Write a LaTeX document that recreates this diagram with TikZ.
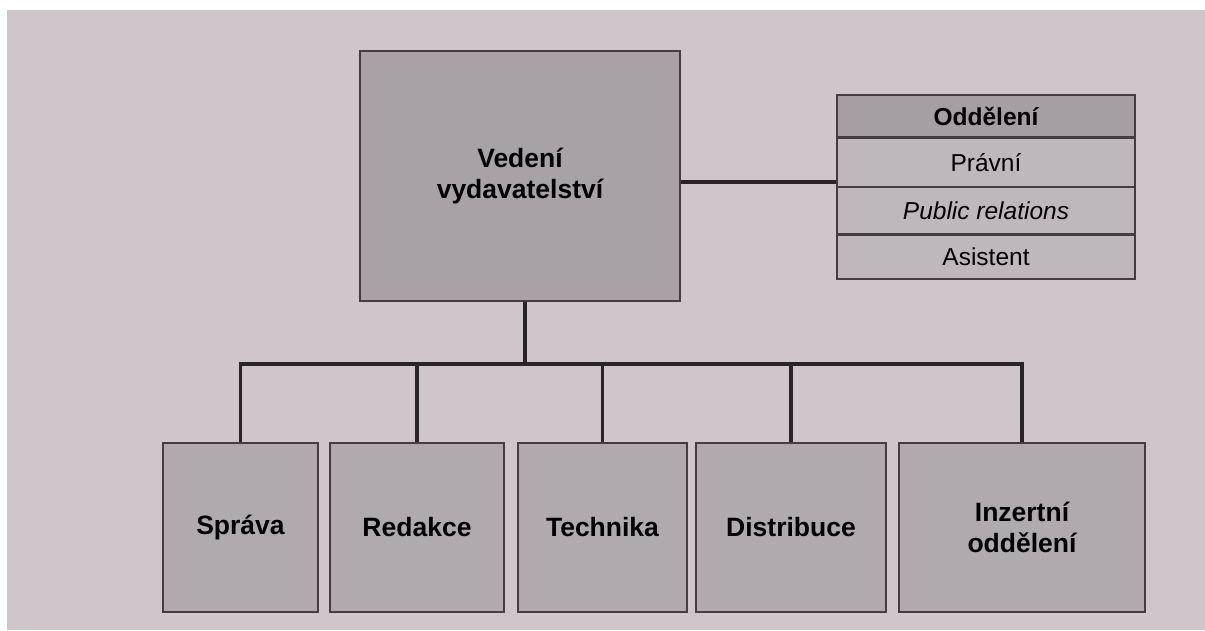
\documentclass[tikz,border=0pt]{standalone}
\usepackage{fontspec}
\setmainfont{Liberation Sans}
\definecolor{page}{RGB}{207,198,204}
\definecolor{boxfill}{RGB}{168,161,165}
\definecolor{lowfill}{RGB}{176,169,173}
\definecolor{hdrfill}{RGB}{165,158,162}
\definecolor{rowfill}{RGB}{190,183,187}
\definecolor{edge}{RGB}{68,62,66}
\definecolor{wire}{RGB}{40,36,39}
\tikzset{
  orgbox/.style={draw=edge, line width=1.8pt, fill=boxfill, align=center, inner sep=0pt,
    font=\bfseries\fontsize{26.5}{31}\selectfont},
  lowbox/.style={orgbox, fill=lowfill, minimum height=169pt},
  tabrow/.style={draw=edge, line width=1.3pt, fill=rowfill, inner sep=0pt, minimum width=298pt,
    font=\fontsize{24.5}{28}\selectfont},
  tabhdr/.style={tabrow, fill=hdrfill, font=\bfseries\fontsize{24.5}{28}\selectfont},
  conn/.style={draw=wire, line width=3.2pt, line join=miter}
}
\begin{document}
\begin{tikzpicture}[x=1pt,y=-1pt]
\useasboundingbox (0,0) rectangle (1205,630);
\fill[white] (0,0) rectangle (1205,630);
\fill[page] (7,10) rectangle (1205,630);

% top box
\node[orgbox, minimum width=320pt, minimum height=250pt] (ved) at (520,176) {Vedení\\vydavatelství};

% table
\node[tabhdr, minimum height=42pt] (hdr) at (986,116) {Oddělení};
\node[tabrow, minimum height=48pt, anchor=north] (prav) at (hdr.south) {Právní};
\node[tabrow, minimum height=46pt, anchor=north] (pr) at (prav.south) {\itshape Public relations};
\node[tabrow, minimum height=44pt, anchor=north] (asi) at (pr.south) {Asistent};

% bottom boxes
\node[lowbox, minimum width=155pt] (spr) at (240.5,527.5) {Správa};
\node[lowbox, minimum width=174pt] (red) at (417,527.5) {Redakce};
\node[lowbox, minimum width=169pt] (tec) at (602.5,527.5) {Technika};
\node[lowbox, minimum width=190pt] (dis) at (791,527.5) {Distribuce};
\node[lowbox, minimum width=246pt] (inz) at (1022,527.5) {Inzertní\\oddělení};

% connectors
\coordinate (link) at (837,182);
\coordinate (bus) at (525,364);
\draw[conn] (ved.east |- link) -- (prav.west |- link);
\draw[conn] (ved.south -| bus) -- (bus);
\draw[conn] (spr.north) -- (spr.north |- bus) -- (inz.north |- bus) -- (inz.north);
\draw[conn] (red.north) -- (red.north |- bus);
\draw[conn] (tec.north) -- (tec.north |- bus);
\draw[conn] (dis.north) -- (dis.north |- bus);
\end{tikzpicture}
\end{document}
